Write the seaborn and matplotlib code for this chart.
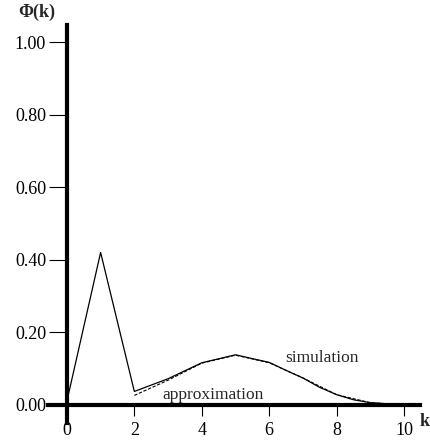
import matplotlib
matplotlib.use("Agg")
import matplotlib.pyplot as plt
import seaborn as sns
import pandas as pd

# Distribution Phi(k) over k
k_sim = [0, 1, 2, 3, 4, 5, 6, 6.5, 7, 7.5, 8, 8.5, 9, 10]
simulation = [0.01, 0.42, 0.037, 0.072, 0.116, 0.138, 0.117, 0.095, 0.074, 0.048,
              0.028, 0.014, 0.006, 0.0]
k_approx = [2, 3, 4, 5, 6, 7, 8, 9, 10]
approximation = [0.026, 0.068, 0.115, 0.137, 0.116, 0.074, 0.028, 0.006, 0.0]

y_ticks = [0.0, 0.2, 0.4, 0.6, 0.8, 1.0]
y_tick_labels = ["0.00", "0.20", "0.40", "0.60", "0.80", "1.00"]
x_ticks = [0, 2, 4, 6, 8, 10]

sim_df = pd.DataFrame({"k": k_sim, "phi": simulation})
approx_df = pd.DataFrame({"k": k_approx, "phi": approximation})

sns.set_theme(style="white")
plt.rcParams["font.family"] = ["Liberation Serif", "DejaVu Serif"]

fig = plt.figure(figsize=(4.31, 4.46), dpi=100)
ax = fig.add_axes([48 / 431, 1 - 423 / 446, (420 - 48) / 431, (423 - 25) / 446])

sns.lineplot(data=approx_df, x="k", y="phi", ax=ax, color="black",
             linewidth=0.8, linestyle=(0, (3, 1.5)))
sns.lineplot(data=sim_df, x="k", y="phi", ax=ax, color="black", linewidth=0.9)

ax.set_xlim(-0.56, 10.47)
ax.set_ylim(-0.05, 1.047)

for side in ("top", "right"):
    ax.spines[side].set_visible(False)
ax.spines["left"].set_position(("data", 0))
ax.spines["bottom"].set_position(("data", 0))
for side in ("left", "bottom"):
    ax.spines[side].set_linewidth(3.0)
    ax.spines[side].set_color("black")

ax.set_xticks(x_ticks)
ax.set_xticklabels([str(v) for v in x_ticks])
ax.set_yticks(y_ticks)
ax.set_yticklabels(y_tick_labels)
ax.tick_params(axis="y", direction="out", length=13, width=0.8, color="black",
               labelsize=13, labelcolor="black", pad=2, left=True)
ax.tick_params(axis="x", direction="out", length=8, width=0.8, color="black",
               labelsize=13, labelcolor="black", pad=4, bottom=True)
ax.set_xlabel("")
ax.set_ylabel("")
ax.grid(False)

ax.text(-0.89, 1.083, "Φ(k)", fontsize=13, fontweight="bold",
        ha="center", va="center", clip_on=False)
ax.text(10.62, -0.045, "k", fontsize=13, fontweight="bold",
        ha="center", va="center", clip_on=False)
ax.text(7.56, 0.13, "simulation", fontsize=12.5, ha="center", va="center")
ax.text(4.33, 0.027, "approximation", fontsize=12.5, ha="center", va="center")

fig.savefig("out.png", dpi=100, facecolor="white")
